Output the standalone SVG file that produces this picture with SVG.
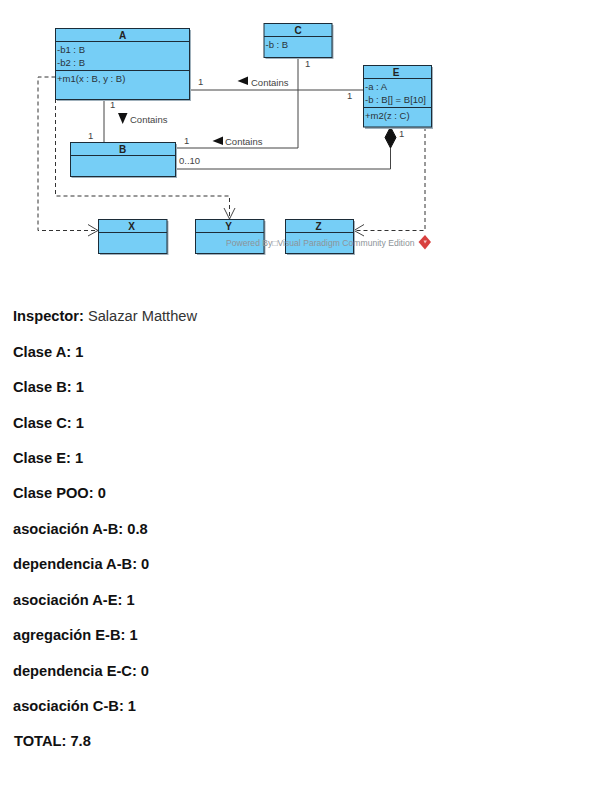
<svg xmlns="http://www.w3.org/2000/svg" width="612" height="808" viewBox="0 0 612 808">
<style>
text{font-family:"Liberation Sans",Arial,sans-serif}
.box{fill:#76cef6;stroke:#1c2c38;stroke-width:1}
.sep{stroke:#1c2c38;stroke-width:1;fill:none}
.shadow{fill:#9fb0bb}
.t{font-size:10px;font-weight:bold;fill:#222;text-anchor:middle}
.m{font-size:9.500px;fill:#2a3238}
.l{font-size:9.500px;fill:#444}
.c{fill:none;stroke:#444;stroke-width:1}
.d{fill:none;stroke:#333;stroke-width:1;stroke-dasharray:4 3}
.a{fill:none;stroke:#444;stroke-width:1}
.r{font-size:14.670px;fill:#111;font-weight:bold}
</style>
<rect width="612" height="808" fill="#fff"/>
<g id="connectors">
<path class="c" d="M189.500 90H363"/>
<path class="c" d="M298 57V148H175.500"/>
<path class="c" d="M104 99V142.500"/>
<path class="c" d="M175.500 169H390.500V148"/>
<path d="M390.500 127L396 137.500L390.500 148L385 137.500Z" fill="#111" stroke="#111"/>
<path class="d" d="M55.500 77H38V230.500H98"/>
<path class="d" d="M55.500 99V196H229.500V219"/>
<path class="d" d="M425 127V230.500H354"/>
<path class="a" d="M88 224.500L98 230.500L88 236"/>
<path class="a" d="M224 208L229.500 219L235 208"/>
<path class="a" d="M364 224.500L354 230.500L364 236"/>
</g>
<g id="labels">
<text class="l" x="198" y="85">1</text>
<text class="l" x="347" y="99">1</text>
<path d="M248 76.500L237.500 81L248 85Z" fill="#111"/>
<text class="l" x="251" y="86">Contains</text>
<text class="l" x="110" y="108">1</text>
<text class="l" x="88" y="139">1</text>
<path d="M118 113H127.500L122.700 124Z" fill="#111"/>
<text class="l" x="130" y="123">Contains</text>
<text class="l" x="184" y="144">1</text>
<path d="M223 136.500L212.500 141L223 145Z" fill="#111"/>
<text class="l" x="225" y="144.500">Contains</text>
<text class="l" x="179" y="164">0..10</text>
<text class="l" x="305" y="67">1</text>
<text class="l" x="399" y="137">1</text>
</g>
<g id="A"><rect class="shadow" x="57" y="30" width="134" height="71"/><rect class="box" x="55.500" y="28.500" width="134" height="71"/><path class="sep" d="M55.500 41.500H189.500M55.500 70.500H189.500"/><text class="t" x="122.500" y="38.500">A</text><text class="m" x="57" y="53">-b1 : B</text><text class="m" x="57" y="66">-b2 : B</text><text class="m" x="57" y="82">+m1(x : B, y : B)</text></g>
<g id="B"><rect class="shadow" x="71.500" y="144" width="105.500" height="34"/><rect class="box" x="70.500" y="142.500" width="105" height="34"/><path class="sep" d="M70.500 155.500H175.500"/><text class="t" x="122.500" y="152.500">B</text></g>
<g id="C"><rect class="shadow" x="265.500" y="25" width="68" height="34"/><rect class="box" x="264" y="23.500" width="68" height="34"/><path class="sep" d="M264 36.500H332"/><text class="t" x="298" y="33.500">C</text><text class="m" x="265.500" y="47.500">-b : B</text></g>
<g id="E"><rect class="shadow" x="365" y="67" width="68" height="62"/><rect class="box" x="363.500" y="65.500" width="68" height="61.500"/><path class="sep" d="M363.500 78.500H431.500M363.500 107.500H431.500"/><text class="t" x="396" y="75.500">E</text><text class="m" x="365" y="90">-a : A</text><text class="m" x="365" y="103">-b : B[] = B[10]</text><text class="m" x="365" y="119">+m2(z : C)</text></g>
<g id="X"><rect class="shadow" x="100" y="221" width="68.500" height="34"/><rect class="box" x="98.500" y="219.500" width="68.500" height="34"/><path class="sep" d="M98.500 232.500H167"/><text class="t" x="131.500" y="229.500">X</text></g>
<g id="Y"><rect class="shadow" x="197" y="221" width="68.500" height="34"/><rect class="box" x="195.500" y="219.500" width="68.500" height="34"/><path class="sep" d="M195.500 232.500H264"/><text class="t" x="228.500" y="229.500">Y</text></g>
<g id="Z"><rect class="shadow" x="287" y="221" width="68" height="34"/><rect class="box" x="285.500" y="219.500" width="68" height="34"/><path class="sep" d="M285.500 232.500H353.500"/><text class="t" x="318.500" y="229.500">Z</text></g>
<g id="watermark"><text x="226" y="246" font-size="8.600px" fill="#8d9499">Powered By□Visual Paradigm Community Edition</text><path d="M425 235L431 242L425 249.500L418.500 242Z" fill="#d8403f"/><path d="M423.500 240.500L427 240.500L425 243.500Z" fill="#f4c6c4"/></g>
<g id="report">
<text class="r" x="13" y="320.500">Inspector: <tspan font-weight="normal" fill="#333">Salazar Matthew</tspan></text>
<text class="r" x="13" y="356.500">Clase A: 1</text>
<text class="r" x="13" y="391.500">Clase B: 1</text>
<text class="r" x="13" y="427.500">Clase C: 1</text>
<text class="r" x="13" y="462.500">Clase E: 1</text>
<text class="r" x="13" y="498">Clase POO: 0</text>
<text class="r" x="13" y="533.500">asociación A-B: 0.8</text>
<text class="r" x="13" y="569">dependencia A-B: 0</text>
<text class="r" x="13" y="604.500">asociación A-E: 1</text>
<text class="r" x="13" y="640">agregación E-B: 1</text>
<text class="r" x="13" y="675.500">dependencia E-C: 0</text>
<text class="r" x="13" y="711">asociación C-B: 1</text>
<text class="r" x="14" y="746">TOTAL: 7.8</text>
</g>
</svg>
